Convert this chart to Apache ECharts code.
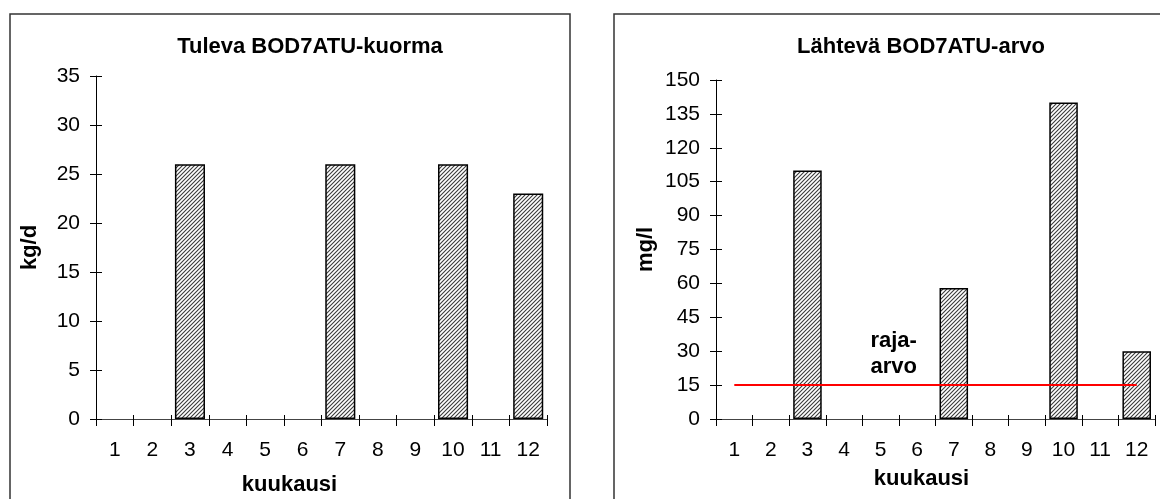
<!DOCTYPE html>
<html>
<head>
<meta charset="utf-8">
<script src="https://cdn.jsdelivr.net/npm/echarts@6/dist/echarts.min.js"></script>
<style>
html,body{margin:0;padding:0;background:#fff;}
#chart{width:1160px;height:499px;}
</style>
</head>
<body>
<div id="chart"></div>
<script>
// ---- data ----
var months = ['1','2','3','4','5','6','7','8','9','10','11','12'];
var incomingLoad = [null, null, 26, null, null, null, 26, null, null, 26, null, 23];
var outgoingValue = [null, null, 110, null, null, null, 58, null, null, 140, null, 30];
var limitValue = [15, 15, 15, 15, 15, 15, 15, 15, 15, 15, 15, 15];
var leftTitle = 'Tuleva BOD7ATU-kuorma';
var rightTitle = 'Lähtevä BOD7ATU-arvo';
var leftYName = 'kg/d';
var rightYName = 'mg/l';
var xName = 'kuukausi';
var limitLabel = 'raja-\narvo';

// ---- hatch pattern ----
function hatch() {
  var c = document.createElement('canvas');
  c.width = 4; c.height = 4;
  var g = c.getContext('2d');
  g.fillStyle = '#fff';
  g.fillRect(0, 0, 4, 4);
  g.strokeStyle = '#3a3a3a';
  g.lineWidth = 1.1;
  g.beginPath();
  g.moveTo(0, 4); g.lineTo(4, 0);
  g.moveTo(-1, 1); g.lineTo(1, -1);
  g.moveTo(3, 5); g.lineTo(5, 3);
  g.stroke();
  return c;
}
var pattern = { image: hatch(), repeat: 'repeat' };

var FONT = 'Liberation Sans, Arial, sans-serif';
var tickFont = { fontFamily: FONT, fontSize: 21, color: '#000' };
var nameFont = { fontFamily: FONT, fontSize: 22, fontWeight: 'bold', color: '#000' };

function valueAxis(grid, max, interval, name, gap, main) {
  return {
    type: 'value', gridIndex: grid, position: 'left', offset: 0,
    min: 0, max: max, interval: interval,
    name: main ? name : '', nameLocation: 'middle', nameGap: gap, nameRotate: 90,
    nameTextStyle: nameFont,
    axisLine: { show: main, onZero: false, lineStyle: { color: '#000', width: 1 } },
    axisTick: { show: true, inside: !main, length: 6, lineStyle: { color: '#000', width: 1 } },
    axisLabel: main ? Object.assign({ show: true, margin: 16 }, tickFont) : { show: false },
    splitLine: { show: false }
  };
}
function catAxis(grid, shift, gap, main) {
  return {
    type: 'category', gridIndex: grid, position: 'bottom', offset: 0, data: months,
    name: main ? xName : '', nameLocation: 'middle', nameGap: gap,
    nameTextStyle: Object.assign({ padding: shift > 0 ? [0, 0, 0, shift] : [0, -shift, 0, 0] }, nameFont),
    axisLine: { show: main, onZero: false, lineStyle: { color: '#444', width: 1.2 } },
    axisTick: { show: true, inside: !main, length: main ? 7 : 4, alignWithLabel: false, lineStyle: { color: '#000', width: 1 } },
    axisLabel: main ? Object.assign({ show: true, margin: 21, interval: 0 }, tickFont) : { show: false },
    splitLine: { show: false }
  };
}

var chart = echarts.init(document.getElementById('chart'), null, { renderer: 'canvas' });
chart.setOption({
  backgroundColor: '#fff',
  animation: false,
  graphic: [
    { type: 'rect', shape: { x: 10, y: 14, width: 560, height: 520 }, style: { fill: 'none', stroke: '#333', lineWidth: 1.5 } },
    { type: 'rect', shape: { x: 614, y: 14, width: 600, height: 520 }, style: { fill: 'none', stroke: '#333', lineWidth: 1.5 } }
  ],
  title: [
    { text: leftTitle, left: 305, top: 31, textAlign: 'center', textStyle: { fontFamily: FONT, fontSize: 22, fontWeight: 'bold', color: '#000' } },
    { text: rightTitle, left: 916, top: 31, textAlign: 'center', textStyle: { fontFamily: FONT, fontSize: 22, fontWeight: 'bold', color: '#000' } }
  ],
  grid: [
    { left: 96, right: 613, top: 76, bottom: 80, containLabel: false, outerBoundsMode: 'none' },
    { left: 716, right: 5, top: 80, bottom: 80, containLabel: false, outerBoundsMode: 'none' }
  ],
  xAxis: [
    catAxis(0, -64, 55, true), catAxis(0, 0, 0, false),
    catAxis(1, -28, 49, true), catAxis(1, 0, 0, false)
  ],
  yAxis: [
    valueAxis(0, 35, 5, leftYName, 55, true), valueAxis(0, 35, 5, '', 0, false),
    valueAxis(1, 150, 15, rightYName, 59, true), valueAxis(1, 150, 15, '', 0, false)
  ],
  series: [
    {
      type: 'bar', name: leftTitle, xAxisIndex: 0, yAxisIndex: 0, data: incomingLoad,
      barCategoryGap: '20%',
      itemStyle: { color: pattern, borderColor: '#000', borderWidth: 1.5 }
    },
    {
      type: 'bar', name: rightTitle, xAxisIndex: 2, yAxisIndex: 2, data: outgoingValue,
      barCategoryGap: '22%',
      itemStyle: { color: pattern, borderColor: '#000', borderWidth: 1.5 }
    },
    {
      type: 'line', name: 'raja-arvo', xAxisIndex: 2, yAxisIndex: 2, data: limitValue,
      symbol: 'none', lineStyle: { color: '#ff0000', width: 2 }, z: 5,
      markPoint: {
        symbol: 'circle', symbolSize: 0,
        data: [{ coord: ['5', 29] }],
        label: {
          show: true, formatter: limitLabel, position: 'inside', offset: [13, 0],
          fontFamily: FONT, fontSize: 22, fontWeight: 'bold', color: '#000', lineHeight: 26, align: 'center'
        }
      }
    }
  ]
});
</script>
</body>
</html>
